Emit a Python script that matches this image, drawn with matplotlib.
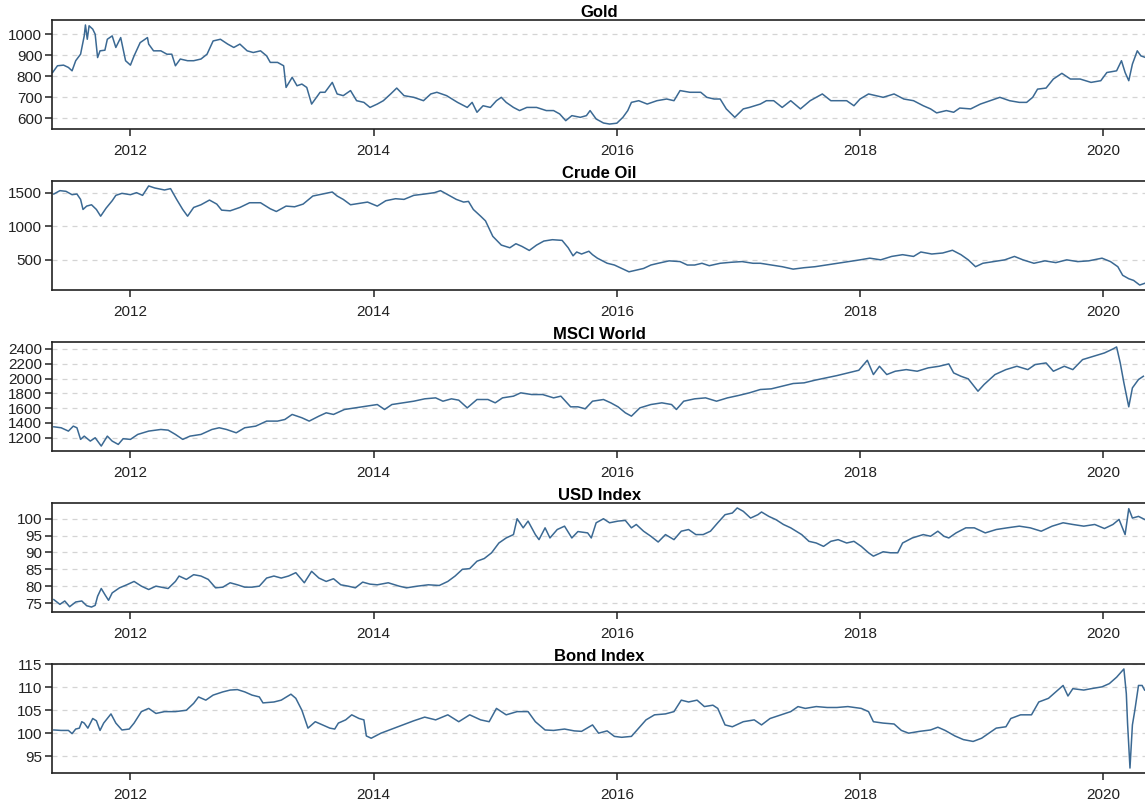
import numpy as np
import matplotlib
matplotlib.use("Agg")
import matplotlib.pyplot as plt

plt.rcParams['font.family'] = ['Liberation Sans', 'DejaVu Sans']

# decimal-year positions and levels for each market series
gold_t = [2011.36, 2011.40, 2011.45, 2011.49, 2011.52, 2011.55, 2011.59, 2011.62, 2011.63, 2011.645,
          2011.66, 2011.69, 2011.71, 2011.73, 2011.75, 2011.79, 2011.81, 2011.85, 2011.88, 2011.92,
          2011.96, 2012.00, 2012.03, 2012.08, 2012.14, 2012.15, 2012.19, 2012.25, 2012.30, 2012.34,
          2012.37, 2012.41, 2012.47, 2012.52, 2012.58, 2012.63, 2012.68, 2012.74, 2012.80, 2012.85,
          2012.90, 2012.96, 2013.01, 2013.07, 2013.12, 2013.15, 2013.21, 2013.26, 2013.28, 2013.33,
          2013.37, 2013.41, 2013.45, 2013.49, 2013.52, 2013.56, 2013.60, 2013.66, 2013.70, 2013.75,
          2013.81, 2013.86, 2013.92, 2013.97, 2014.03, 2014.08, 2014.14, 2014.19, 2014.25, 2014.33,
          2014.41, 2014.47, 2014.52, 2014.60, 2014.69, 2014.77, 2014.81, 2014.85, 2014.90, 2014.96,
          2015.01, 2015.05, 2015.09, 2015.15, 2015.20, 2015.26, 2015.34, 2015.42, 2015.48, 2015.53,
          2015.58, 2015.63, 2015.70, 2015.75, 2015.78, 2015.83, 2015.89, 2015.94, 2016.00, 2016.05,
          2016.09, 2016.12, 2016.18, 2016.25, 2016.33, 2016.41, 2016.47, 2016.52, 2016.60, 2016.69,
          2016.74, 2016.80, 2016.85, 2016.90, 2016.97, 2017.04, 2017.09, 2017.18, 2017.23, 2017.29,
          2017.36, 2017.43, 2017.51, 2017.59, 2017.69, 2017.76, 2017.84, 2017.89, 2017.95, 2018.00,
          2018.07, 2018.13, 2018.19, 2018.28, 2018.36, 2018.44, 2018.52, 2018.58, 2018.63, 2018.71,
          2018.77, 2018.82, 2018.91, 2018.99, 2019.07, 2019.15, 2019.23, 2019.31, 2019.37, 2019.42,
          2019.46, 2019.53, 2019.59, 2019.66, 2019.73, 2019.81, 2019.90, 2019.98, 2020.03, 2020.11,
          2020.15, 2020.18, 2020.21, 2020.24, 2020.28, 2020.31, 2020.35]
gold_v = [818, 850, 853, 842, 826, 874, 905, 992, 1044, 976,
          1040, 1024, 1000, 889, 921, 924, 976, 992, 937, 984,
          874, 853, 897, 960, 984, 953, 921, 921, 905, 905,
          850, 882, 874, 874, 882, 905, 968, 976, 953, 937,
          953, 921, 913, 921, 897, 866, 866, 850, 747, 795,
          755, 763, 747, 668, 692, 724, 724, 771, 716, 708,
          732, 684, 676, 652, 668, 684, 716, 744, 708, 700,
          684, 716, 724, 708, 676, 652, 676, 629, 660, 652,
          684, 700, 676, 652, 637, 652, 652, 637, 637, 621,
          589, 613, 605, 613, 637, 597, 578, 573, 577, 605,
          637, 676, 684, 668, 684, 692, 684, 732, 724, 724,
          700, 692, 692, 645, 605, 645, 652, 668, 684, 684,
          652, 684, 645, 684, 716, 684, 684, 684, 660, 692,
          716, 708, 700, 716, 692, 684, 660, 645, 626, 637,
          629, 649, 645, 668, 684, 700, 684, 676, 676, 700,
          739, 744, 787, 814, 787, 787, 771, 779, 818, 826,
          874, 818, 779, 858, 921, 897, 889]

oil_t = [2011.37, 2011.42, 2011.47, 2011.52, 2011.56, 2011.59, 2011.61, 2011.64, 2011.68, 2011.72,
         2011.755, 2011.80, 2011.85, 2011.88, 2011.93, 2012.00, 2012.05, 2012.10, 2012.15, 2012.20,
         2012.28, 2012.33, 2012.38, 2012.43, 2012.47, 2012.52, 2012.58, 2012.65, 2012.71, 2012.75,
         2012.82, 2012.90, 2012.98, 2013.07, 2013.15, 2013.20, 2013.28, 2013.35, 2013.42, 2013.50,
         2013.58, 2013.66, 2013.70, 2013.75, 2013.81, 2013.88, 2013.95, 2014.03, 2014.10, 2014.18,
         2014.25, 2014.33, 2014.42, 2014.50, 2014.55, 2014.62, 2014.68, 2014.74, 2014.78, 2014.82,
         2014.88, 2014.92, 2014.98, 2015.05, 2015.12, 2015.17, 2015.22, 2015.28, 2015.34, 2015.40,
         2015.47, 2015.55, 2015.60, 2015.64, 2015.67, 2015.71, 2015.77, 2015.80, 2015.84, 2015.92,
         2015.98, 2016.04, 2016.10, 2016.16, 2016.22, 2016.28, 2016.34, 2016.43, 2016.52, 2016.58,
         2016.64, 2016.70, 2016.76, 2016.85, 2016.94, 2017.03, 2017.12, 2017.18, 2017.27, 2017.36,
         2017.45, 2017.54, 2017.63, 2017.72, 2017.81, 2017.90, 2018.00, 2018.08, 2018.17, 2018.26,
         2018.35, 2018.44, 2018.50, 2018.59, 2018.68, 2018.76, 2018.83, 2018.89, 2018.95, 2019.01,
         2019.10, 2019.19, 2019.27, 2019.34, 2019.43, 2019.52, 2019.61, 2019.70, 2019.79, 2019.88,
         2019.99, 2020.06, 2020.12, 2020.16, 2020.21, 2020.25, 2020.30, 2020.34]
oil_v = [1480, 1530, 1520, 1470, 1480, 1400, 1250, 1300, 1320, 1250,
         1150, 1270, 1380, 1460, 1490, 1470, 1500, 1460, 1600, 1570,
         1540, 1560, 1400, 1250, 1150, 1280, 1320, 1390, 1330, 1240,
         1230, 1280, 1350, 1350, 1260, 1220, 1300, 1290, 1330, 1450,
         1480, 1510, 1450, 1400, 1320, 1340, 1360, 1300, 1380, 1410,
         1400, 1460, 1480, 1500, 1530, 1460, 1400, 1360, 1370, 1250,
         1150, 1080, 850, 720, 680, 740, 700, 640, 720, 780,
         800, 790, 680, 560, 617, 587, 628, 577, 525, 450,
         423, 372, 322, 347, 372, 423, 449, 485, 474, 423,
         423, 449, 413, 449, 464, 474, 449, 449, 423, 398,
         362, 383, 398, 423, 449, 474, 500, 525, 500, 551,
         577, 551, 617, 587, 602, 643, 577, 500, 398, 449,
         474, 500, 551, 500, 449, 485, 459, 500, 474, 485,
         525, 474, 398, 270, 219, 194, 125, 150]

msci_t = [2011.37, 2011.43, 2011.49, 2011.53, 2011.56, 2011.59, 2011.62, 2011.67, 2011.71, 2011.76,
          2011.81, 2011.85, 2011.90, 2011.94, 2012.00, 2012.06, 2012.15, 2012.25, 2012.31, 2012.37,
          2012.43, 2012.49, 2012.58, 2012.67, 2012.73, 2012.79, 2012.87, 2012.94, 2013.03, 2013.12,
          2013.21, 2013.27, 2013.33, 2013.41, 2013.47, 2013.55, 2013.61, 2013.67, 2013.76, 2013.85,
          2013.94, 2014.03, 2014.09, 2014.15, 2014.24, 2014.33, 2014.42, 2014.51, 2014.57, 2014.64,
          2014.70, 2014.77, 2014.85, 2014.94, 2015.00, 2015.06, 2015.15, 2015.21, 2015.30, 2015.39,
          2015.48, 2015.54, 2015.62, 2015.68, 2015.74, 2015.80, 2015.89, 2015.95, 2016.01, 2016.07,
          2016.12, 2016.19, 2016.28, 2016.37, 2016.45, 2016.49, 2016.55, 2016.64, 2016.73, 2016.82,
          2016.91, 2017.00, 2017.09, 2017.18, 2017.27, 2017.36, 2017.45, 2017.54, 2017.63, 2017.72,
          2017.81, 2017.90, 2017.99, 2018.06, 2018.11, 2018.16, 2018.22, 2018.29, 2018.38, 2018.47,
          2018.56, 2018.65, 2018.73, 2018.77, 2018.83, 2018.89, 2018.97, 2019.02, 2019.11, 2019.20,
          2019.29, 2019.38, 2019.44, 2019.53, 2019.59, 2019.68, 2019.75, 2019.83, 2019.92, 2020.01,
          2020.08, 2020.11, 2020.14, 2020.17, 2020.21, 2020.24, 2020.29, 2020.33]
msci_v = [1348, 1335, 1290, 1357, 1335, 1178, 1222, 1155, 1200, 1088,
          1222, 1155, 1110, 1187, 1178, 1245, 1290, 1312, 1303, 1245,
          1178, 1222, 1245, 1312, 1335, 1312, 1267, 1335, 1357, 1425,
          1425, 1447, 1515, 1470, 1425, 1492, 1537, 1515, 1582, 1604,
          1627, 1649, 1582, 1649, 1672, 1694, 1726, 1739, 1694, 1726,
          1708, 1604, 1717, 1717, 1672, 1739, 1762, 1807, 1784, 1784,
          1739, 1762, 1618, 1618, 1591, 1694, 1717, 1672, 1618, 1537,
          1492, 1604, 1649, 1672, 1649, 1582, 1694, 1726, 1739, 1694,
          1739, 1771, 1807, 1852, 1861, 1897, 1933, 1942, 1978, 2009,
          2040, 2076, 2112, 2247, 2054, 2166, 2054, 2099, 2121, 2099,
          2144, 2166, 2198, 2076, 2031, 1996, 1829, 1919, 2054, 2121,
          2166, 2121, 2189, 2211, 2099, 2166, 2121, 2256, 2301, 2346,
          2400, 2427, 2211, 1942, 1618, 1874, 1987, 2031]

usd_t = [2011.37, 2011.42, 2011.46, 2011.50, 2011.55, 2011.60, 2011.64, 2011.68, 2011.71, 2011.73,
         2011.76, 2011.79, 2011.82, 2011.85, 2011.91, 2011.97, 2012.03, 2012.09, 2012.15, 2012.21,
         2012.31, 2012.37, 2012.40, 2012.46, 2012.52, 2012.58, 2012.64, 2012.70, 2012.76, 2012.82,
         2012.88, 2012.94, 2013.00, 2013.06, 2013.12, 2013.18, 2013.24, 2013.30, 2013.36, 2013.43,
         2013.49, 2013.55, 2013.61, 2013.67, 2013.73, 2013.79, 2013.85, 2013.91, 2013.97, 2014.03,
         2014.12, 2014.21, 2014.27, 2014.36, 2014.45, 2014.54, 2014.61, 2014.67, 2014.73, 2014.79,
         2014.85, 2014.91, 2014.97, 2015.03, 2015.09, 2015.15, 2015.18, 2015.23, 2015.27, 2015.33,
         2015.36, 2015.41, 2015.45, 2015.51, 2015.57, 2015.63, 2015.68, 2015.76, 2015.79, 2015.83,
         2015.89, 2015.94, 2016.01, 2016.07, 2016.12, 2016.16, 2016.22, 2016.28, 2016.34, 2016.40,
         2016.47, 2016.53, 2016.59, 2016.65, 2016.71, 2016.77, 2016.83, 2016.89, 2016.95, 2016.99,
         2017.04, 2017.10, 2017.16, 2017.19, 2017.25, 2017.31, 2017.37, 2017.43, 2017.52, 2017.58,
         2017.64, 2017.70, 2017.76, 2017.82, 2017.89, 2017.95, 2018.01, 2018.07, 2018.11, 2018.19,
         2018.25, 2018.31, 2018.35, 2018.43, 2018.52, 2018.58, 2018.64, 2018.69, 2018.73, 2018.79,
         2018.87, 2018.94, 2019.03, 2019.12, 2019.21, 2019.31, 2019.40, 2019.49, 2019.58, 2019.67,
         2019.75, 2019.84, 2019.93, 2020.01, 2020.08, 2020.13, 2020.18, 2020.21, 2020.24, 2020.29,
         2020.34]
usd_v = [76.0, 74.6, 75.6, 73.9, 75.3, 75.6, 74.2, 73.8, 74.3, 77.0,
         79.3, 77.5, 75.8, 78.0, 79.5, 80.4, 81.4, 80.0, 79.0, 80.0,
         79.3, 81.4, 83.0, 82.0, 83.4, 83.0, 82.0, 79.5, 79.7, 81.0,
         80.4, 79.7, 79.7, 80.0, 82.4, 83.0, 82.4, 83.0, 84.0, 81.0,
         84.4, 82.4, 81.4, 82.2, 80.4, 80.0, 79.5, 81.2, 80.6, 80.4,
         81.0, 80.0, 79.5, 80.0, 80.4, 80.2, 81.4, 83.0, 85.0, 85.2,
         87.4, 88.2, 89.9, 92.8, 94.3, 95.3, 100.0, 97.3, 99.3, 95.3,
         93.8, 97.3, 94.3, 96.8, 97.8, 94.3, 96.2, 95.8, 94.3, 98.8,
         100.0, 98.8, 99.3, 99.5, 97.3, 98.3, 96.3, 94.8, 93.1, 95.3,
         93.8, 96.3, 96.8, 95.3, 95.3, 96.3, 98.8, 101.2, 101.7, 103.2,
         102.2, 100.2, 101.2, 102.0, 100.7, 99.7, 98.3, 97.3, 95.3, 93.3,
         92.8, 91.8, 93.3, 93.8, 92.8, 93.3, 91.8, 89.9, 88.9, 90.2,
         89.9, 89.9, 92.8, 94.3, 95.3, 94.8, 96.3, 94.8, 94.3, 95.8,
         97.3, 97.3, 95.8, 96.8, 97.3, 97.8, 97.3, 96.3, 97.8, 98.8,
         98.3, 97.8, 98.3, 97.1, 98.3, 99.8, 95.3, 103.0, 100.2, 100.7,
         99.8]

bond_t = [2011.37, 2011.43, 2011.49, 2011.52, 2011.55, 2011.58, 2011.60, 2011.62, 2011.65, 2011.69,
          2011.72, 2011.75, 2011.78, 2011.84, 2011.88, 2011.93, 2011.99, 2012.03, 2012.09, 2012.15,
          2012.21, 2012.28, 2012.37, 2012.46, 2012.52, 2012.56, 2012.62, 2012.68, 2012.76, 2012.82,
          2012.88, 2012.94, 2013.00, 2013.06, 2013.09, 2013.18, 2013.24, 2013.32, 2013.36, 2013.41,
          2013.46, 2013.52, 2013.58, 2013.64, 2013.68, 2013.71, 2013.77, 2013.82, 2013.88, 2013.92,
          2013.94, 2013.98, 2014.06, 2014.15, 2014.24, 2014.33, 2014.42, 2014.51, 2014.61, 2014.70,
          2014.79, 2014.88, 2014.95, 2015.01, 2015.09, 2015.18, 2015.27, 2015.33, 2015.41, 2015.48,
          2015.57, 2015.65, 2015.71, 2015.80, 2015.85, 2015.92, 2015.98, 2016.04, 2016.12, 2016.18,
          2016.24, 2016.31, 2016.40, 2016.47, 2016.53, 2016.59, 2016.66, 2016.72, 2016.79, 2016.83,
          2016.86, 2016.89, 2016.95, 2017.04, 2017.13, 2017.19, 2017.26, 2017.35, 2017.43, 2017.49,
          2017.55, 2017.64, 2017.73, 2017.81, 2017.90, 2018.01, 2018.07, 2018.11, 2018.19, 2018.28,
          2018.34, 2018.40, 2018.49, 2018.58, 2018.64, 2018.70, 2018.78, 2018.85, 2018.93, 2019.00,
          2019.06, 2019.12, 2019.20, 2019.24, 2019.32, 2019.41, 2019.47, 2019.55, 2019.61, 2019.67,
          2019.71, 2019.75, 2019.84, 2019.90, 2019.99, 2020.05, 2020.11, 2020.17, 2020.19, 2020.20,
          2020.22, 2020.24, 2020.26, 2020.29, 2020.32, 2020.34]
bond_v = [100.7, 100.6, 100.6, 99.9, 100.9, 101.1, 102.5, 102.2, 101.1, 103.2,
          102.7, 100.6, 102.2, 104.2, 102.2, 100.7, 100.9, 102.2, 104.7, 105.4,
          104.3, 104.7, 104.7, 105.0, 106.5, 107.9, 107.2, 108.3, 109.0, 109.4,
          109.5, 109.0, 108.3, 107.9, 106.6, 106.8, 107.2, 108.5, 107.6, 105.0,
          101.1, 102.5, 101.8, 101.1, 100.9, 102.2, 102.9, 104.0, 103.2, 102.9,
          99.4, 98.9, 100.0, 100.9, 101.8, 102.7, 103.5, 102.9, 104.0, 102.5,
          104.0, 102.9, 102.5, 105.4, 104.0, 104.7, 104.7, 102.5, 100.7, 100.6,
          100.9, 100.5, 100.4, 101.8, 100.0, 100.5, 99.3, 99.1, 99.3, 101.1,
          102.9, 104.0, 104.2, 104.7, 107.2, 106.8, 107.2, 105.8, 106.1, 105.4,
          103.6, 101.8, 101.4, 102.5, 102.9, 101.8, 103.2, 104.0, 104.7, 105.8,
          105.4, 105.8, 105.6, 105.6, 105.8, 105.4, 104.7, 102.5, 102.2, 102.0,
          100.6, 100.0, 100.4, 100.7, 101.3, 100.6, 99.4, 98.6, 98.2, 98.9,
          100.0, 101.1, 101.4, 103.2, 104.0, 104.0, 106.8, 107.6, 109.0, 110.4,
          108.1, 109.7, 109.4, 109.7, 110.1, 110.8, 112.2, 114.0, 108.6, 102.2,
          92.4, 101.8, 105.0, 110.4, 110.4, 109.4]

titles = ["Gold", "Crude Oil", "MSCI World", "USD Index", "Bond Index"]
series = [(gold_t, gold_v), (oil_t, oil_v), (msci_t, msci_v), (usd_t, usd_v), (bond_t, bond_v)]
yticks = [[600, 700, 800, 900, 1000],
          [500, 1000, 1500],
          [1200, 1400, 1600, 1800, 2000, 2200, 2400],
          [75, 80, 85, 90, 95, 100],
          [95, 100, 105, 110, 115]]
year_ticks = [2012, 2014, 2016, 2018, 2020]

W, H = 1145, 810
fig = plt.figure(figsize=(W / 100, H / 100), dpi=100)
fig.patch.set_facecolor("white")

left_px, right_px = 52, 1147
tops_px = [20, 181, 342, 503, 664]
panel_h = 109
line_color = "#3b6993"

for i, (name, (t, v)) in enumerate(zip(titles, series)):
    top = tops_px[i]
    ax = fig.add_axes([left_px / W, 1 - (top + panel_h) / H,
                       (right_px - left_px) / W, panel_h / H])
    ax.plot(np.array(t), np.array(v), color=line_color, lw=1.1)
    ax.set_xlim(2011.355, 2020.36)
    ax.set_xticks(year_ticks)
    ax.set_xticklabels([str(y) for y in year_ticks])
    ax.set_yticks(yticks[i])
    ax.margins(y=0.05)
    ax.yaxis.grid(True, linestyle=(0, (4, 4)), color="#d4d4d4", linewidth=0.9)
    ax.set_axisbelow(True)
    for sp in ax.spines.values():
        sp.set_color("#222222")
        sp.set_linewidth(1.2)
    ax.tick_params(axis="both", direction="out", length=5, width=1.1,
                   colors="#222222", labelsize=11, labelcolor="#222222")
    ax.tick_params(axis="x", pad=6)
    ax.tick_params(axis="y", pad=2)
    ax.set_title(name, fontsize=12, fontweight="bold", pad=2)

fig.savefig("out.png", dpi=100)
